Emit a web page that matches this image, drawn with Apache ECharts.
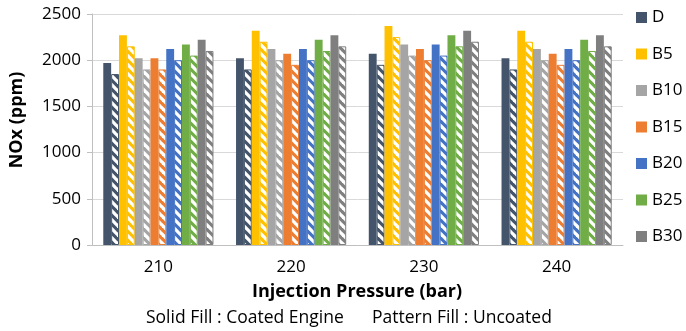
<!DOCTYPE html>
<html>
<head>
<meta charset="utf-8">
<script src="https://cdn.jsdelivr.net/npm/echarts@6/dist/echarts.min.js"></script>
<style>
html,body{margin:0;padding:0;background:#fff;}
#c{width:686px;height:331px;}
</style>
</head>
<body>
<div id="c"></div>
<script>
var categories = ['210', '220', '230', '240'];
var fuels = ['D', 'B5', 'B10', 'B15', 'B20', 'B25', 'B30'];
var fuelColors = ['#44546A', '#FFC000', '#A5A5A5', '#ED7D31', '#4472C4', '#70AD47', '#7F7F7F'];
// Coated engine (solid fill)
var coatedD   = [1970, 2020, 2070, 2020];
var coatedB5  = [2270, 2320, 2370, 2320];
var coatedB10 = [2020, 2120, 2170, 2120];
var coatedB15 = [2020, 2070, 2120, 2070];
var coatedB20 = [2120, 2120, 2170, 2120];
var coatedB25 = [2170, 2220, 2270, 2220];
var coatedB30 = [2220, 2270, 2320, 2270];
// Uncoated engine (pattern fill)
var uncoatedD   = [1850, 1900, 1950, 1900];
var uncoatedB5  = [2150, 2200, 2250, 2200];
var uncoatedB10 = [1900, 2000, 2050, 2000];
var uncoatedB15 = [1900, 1950, 2000, 1950];
var uncoatedB20 = [2000, 2000, 2050, 2000];
var uncoatedB25 = [2050, 2100, 2150, 2100];
var uncoatedB30 = [2100, 2150, 2200, 2150];
var yTicks = [0, 500, 1000, 1500, 2000, 2500];

var coated = [coatedD, coatedB5, coatedB10, coatedB15, coatedB20, coatedB25, coatedB30];
var uncoated = [uncoatedD, uncoatedB5, uncoatedB10, uncoatedB15, uncoatedB20, uncoatedB25, uncoatedB30];

function makePattern(color) {
  var s = 9;
  var cv = document.createElement('canvas');
  cv.width = s; cv.height = s;
  var ctx = cv.getContext('2d');
  ctx.fillStyle = color;
  ctx.fillRect(0, 0, s, s);
  ctx.strokeStyle = '#ffffff';
  ctx.lineWidth = 3.3;
  for (var k = -2; k <= 2; k++) {
    ctx.beginPath();
    ctx.moveTo(k * s - s, -s);
    ctx.lineTo(k * s + 2 * s, 2 * s);
    ctx.stroke();
  }
  return cv;
}

var FONT = 'Open Sans';
var series = [];
fuels.forEach(function (f, i) {
  series.push({
    name: f,
    type: 'bar',
    data: coated[i],
    itemStyle: { color: fuelColors[i] },
    barGap: '0%',
    barCategoryGap: '17%'
  });
  series.push({
    name: f + ' Uncoated',
    type: 'bar',
    data: uncoated[i],
    itemStyle: {
      color: { image: makePattern(fuelColors[i]), repeat: 'repeat' },
      borderColor: fuelColors[i],
      borderWidth: 1
    },
    barGap: '0%',
    barCategoryGap: '17%'
  });
});

var chart = echarts.init(document.getElementById('c'), null, { renderer: 'canvas' });
chart.setOption({
  animation: false,
  backgroundColor: '#ffffff',
  grid: { left: 92, right: 63, top: 14, bottom: 86, containLabel: false },
  legend: {
    data: fuels,
    orient: 'vertical',
    left: 636,
    top: 9,
    padding: 0,
    itemWidth: 11,
    itemHeight: 11,
    itemGap: 19.5,
    icon: 'rect',
    textStyle: { fontFamily: FONT, fontSize: 17, color: '#000', lineHeight: 17 },
    selectedMode: false
  },
  xAxis: {
    type: 'category',
    data: categories,
    axisLine: { show: true, lineStyle: { color: '#BFBFBF', width: 1 } },
    axisTick: { show: false },
    axisLabel: { fontFamily: FONT, fontSize: 17, color: '#000', margin: 14 }
  },
  yAxis: {
    type: 'value',
    min: yTicks[0],
    max: yTicks[yTicks.length - 1],
    interval: 500,
    axisLine: { show: true, lineStyle: { color: '#BFBFBF', width: 1 } },
    axisTick: { show: true, length: 5, lineStyle: { color: '#BFBFBF' } },
    splitLine: { show: true, lineStyle: { color: '#D9D9D9', width: 1 } },
    axisLabel: { fontFamily: FONT, fontSize: 17, color: '#000', margin: 11,
      formatter: function (v) { return String(v); } }
  },
  graphic: [
    {
      type: 'text',
      x: 17, y: 120,
      rotation: Math.PI / 2,
      style: { text: 'NOx (ppm)', fontFamily: FONT, fontSize: 18, fontWeight: 'bold', fill: '#000',
        align: 'center', verticalAlign: 'middle' }
    },
    {
      type: 'text',
      x: 357, y: 292,
      style: { text: 'Injection Pressure (bar)', fontFamily: FONT, fontSize: 18, fontWeight: 'bold', fill: '#000',
        align: 'center', verticalAlign: 'middle' }
    },
    {
      type: 'text',
      x: 146, y: 318,
      style: { text: 'Solid Fill : Coated Engine', fontFamily: FONT, fontSize: 17.5, fill: '#000',
        align: 'left', verticalAlign: 'middle' }
    },
    {
      type: 'text',
      x: 372, y: 318,
      style: { text: 'Pattern Fill : Uncoated', fontFamily: FONT, fontSize: 17.5, fill: '#000',
        align: 'left', verticalAlign: 'middle' }
    }
  ],
  series: series
});
</script>
</body>
</html>
